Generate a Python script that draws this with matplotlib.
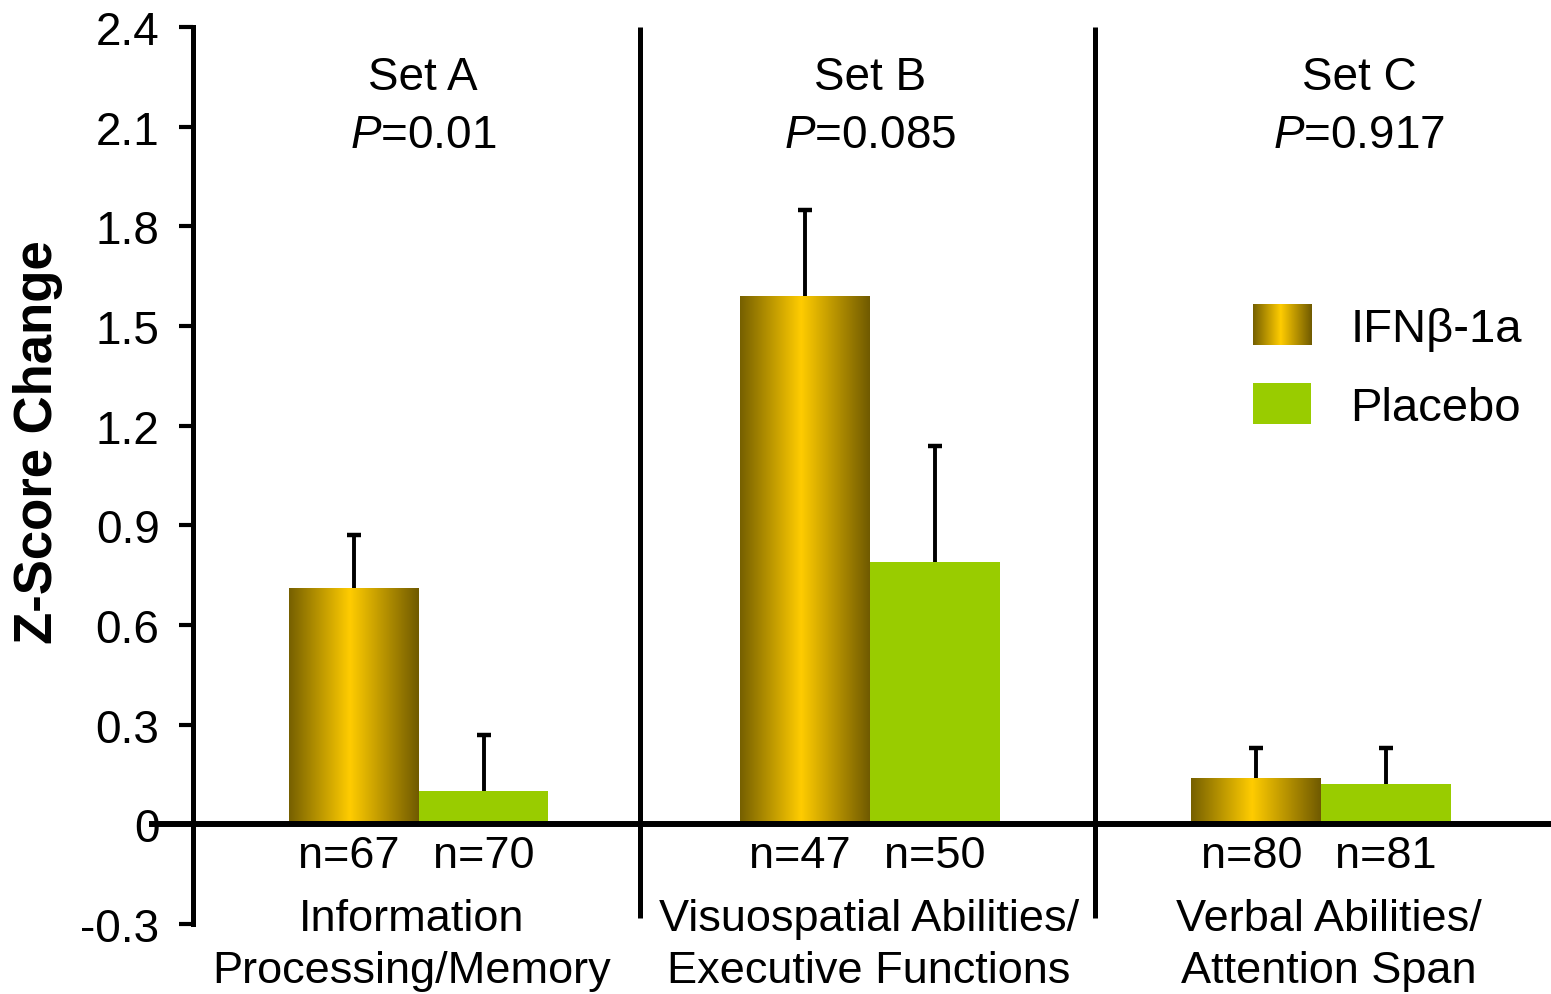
import numpy as np
import matplotlib
matplotlib.use("Agg")
import matplotlib.pyplot as plt
from matplotlib.colors import LinearSegmentedColormap
from matplotlib.legend_handler import HandlerBase
from matplotlib.image import BboxImage
from matplotlib.transforms import Bbox, TransformedBbox
from matplotlib.patches import Patch

plt.rcParams["font.family"] = ["Liberation Sans", "DejaVu Sans"]
plt.rcParams["mathtext.fontset"] = "custom"
plt.rcParams["mathtext.it"] = "Liberation Sans:italic"
plt.rcParams["mathtext.rm"] = "Liberation Sans"

# data
set_names = ["Set A", "Set B", "Set C"]
p_values = ["0.01", "0.085", "0.917"]
domains = ["Information\nProcessing/Memory",
           "Visuospatial Abilities/\nExecutive Functions",
           "Verbal Abilities/\nAttention Span"]
ifn_mean = [0.71, 1.59, 0.14]
ifn_err = [0.16, 0.26, 0.09]
pla_mean = [0.10, 0.79, 0.12]
pla_err = [0.17, 0.35, 0.11]
ifn_n = [67, 47, 80]
pla_n = [70, 50, 81]
yticks = [-0.3, 0, 0.3, 0.6, 0.9, 1.2, 1.5, 1.8, 2.1, 2.4]

# layout tweaks (horizontal shift of header / domain text per group)
title_dx = [0.01, 0.0, 0.085]
domain_dx = [-0.015, -0.002, 0.017]

GOLD = LinearSegmentedColormap.from_list(
    "gold", [(0.0, "#766000"), (0.47, "#ffcc00"), (1.0, "#705a00")])
GREEN = "#99cc00"
GRAD = np.linspace(0, 1, 256).reshape(1, -1)


class GradHandler(HandlerBase):
    def create_artists(self, legend, orig_handle, xdescent, ydescent,
                       width, height, fontsize, trans):
        bb = TransformedBbox(Bbox.from_bounds(-xdescent, -ydescent, width, height), trans)
        img = BboxImage(bb, cmap=GOLD, interpolation="bilinear")
        img.set_data(GRAD)
        return [img]


fig = plt.figure(figsize=(15.51, 9.95), dpi=100)
ax = fig.add_axes([0.1244, 0.0704, 1 - 0.1244, 0.9719 - 0.0704])

x = np.arange(len(set_names))
w = 0.288

bars = ax.bar(x - w / 2, ifn_mean, w, color="none", edgecolor="none", zorder=2)
for b in bars:
    x0, y0 = b.get_x(), b.get_y()
    im = ax.imshow(GRAD, cmap=GOLD, aspect="auto", interpolation="bilinear",
                   extent=[x0, x0 + b.get_width(), y0, y0 + b.get_height()], zorder=2)
    im.set_clip_path(b)
ax.bar(x + w / 2, pla_mean, w, color=GREEN, zorder=2)

# upper-only error bars
for xs, m, e in [(x - w / 2, ifn_mean, ifn_err), (x + w / 2, pla_mean, pla_err)]:
    top = np.array(m) + np.array(e)
    ax.vlines(xs, m, top, color="black", lw=2.8, zorder=3)
    ax.plot(xs, top, ls="none", marker="_", ms=10, mew=3.2, color="black", zorder=3)

ax.set_xlim(-0.5, 2.51)
ax.set_ylim(-0.3, 2.4)
ax.set_yticks(yticks)
ax.set_yticklabels([("%g" % t) for t in yticks], fontsize=33)
ax.tick_params(axis="y", direction="out", length=10, width=3, pad=14)
ax.set_xticks([])
for s in ["top", "right", "bottom"]:
    ax.spines[s].set_visible(False)
ax.spines["left"].set_linewidth(3.6)

ax.axhline(0, xmin=-0.03, xmax=1, color="black", lw=4.3, clip_on=False, zorder=4)
ax.vlines([0.49, 1.5], -0.283, 2.4, color="black", lw=3.6, zorder=4)

for i in x:
    ax.text(i + title_dx[i], 2.25, set_names[i], ha="center", va="center", fontsize=33)
    ax.text(i + title_dx[i], 2.075, "$P$=" + p_values[i], ha="center", va="center", fontsize=33)
    ax.text(i - w / 2 - 0.01, -0.095, f"n={ifn_n[i]}", ha="center", va="center", fontsize=32.5)
    ax.text(i + w / 2, -0.095, f"n={pla_n[i]}", ha="center", va="center", fontsize=32.5)
    ax.text(i + domain_dx[i], -0.362, domains[i], ha="center", va="center", fontsize=32.5,
            linespacing=1.33, clip_on=False)

fig.text(38 / 1551, 0.556, "Z-Score Change", rotation=90, ha="center", va="center",
         fontsize=38, fontweight="bold")

handles = [Patch(facecolor="#ffcc00"), Patch(facecolor=GREEN)]
ax.legend(handles, ["IFN\u03b2-1a", "Placebo"], handler_map={handles[0]: GradHandler()},
          loc="upper left", bbox_to_anchor=(0.7806, 0.691),
          frameon=False, fontsize=34, handlelength=1.23, handleheight=0.95,
          handletextpad=0.83, labelspacing=0.69, borderaxespad=0, borderpad=0)

fig.savefig("out.png", dpi=100)
